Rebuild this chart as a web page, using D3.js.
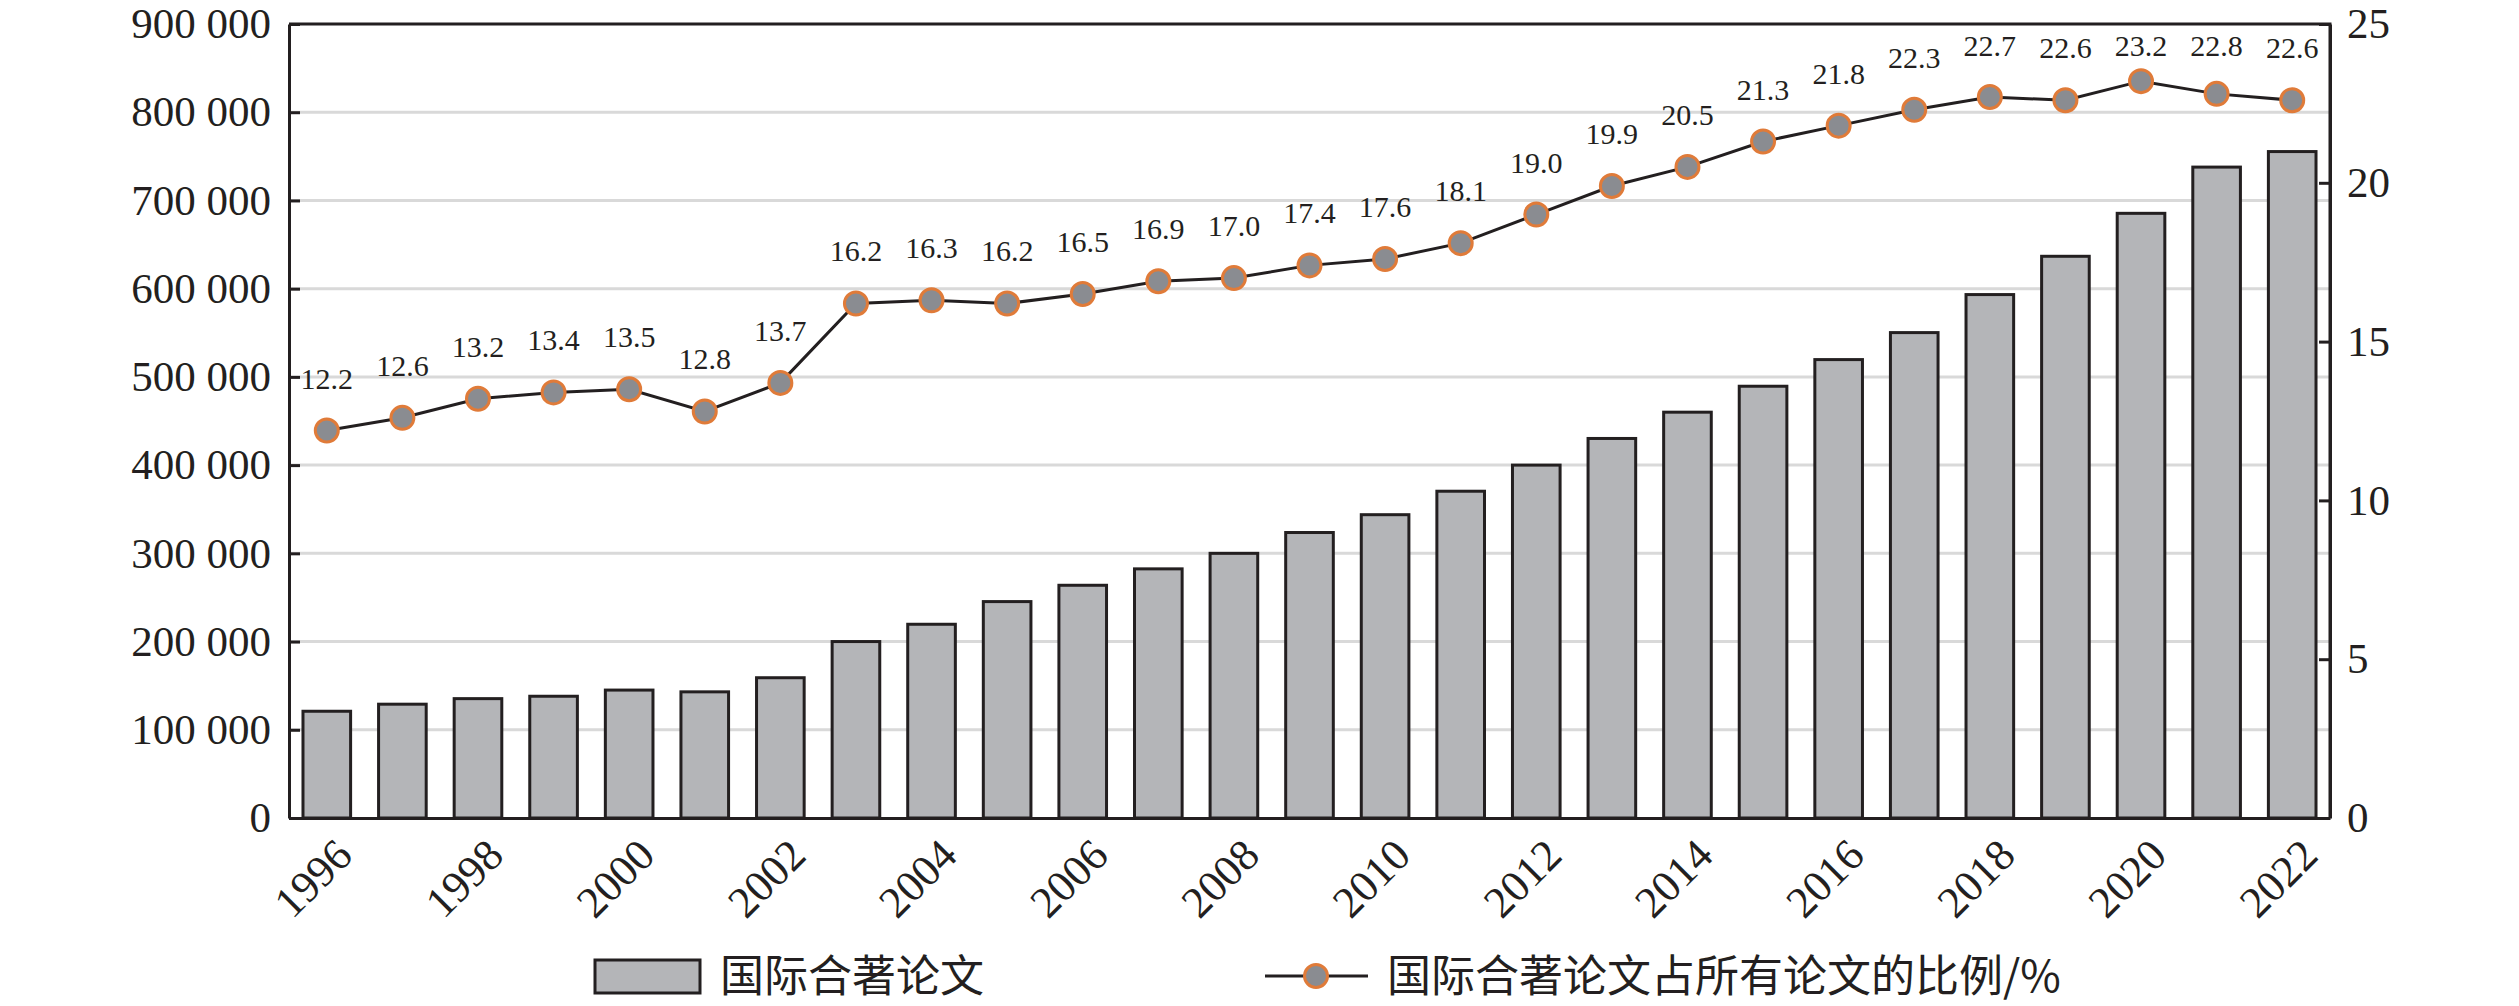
<!DOCTYPE html>
<html lang="zh">
<head>
<meta charset="UTF-8">
<title>国际合著论文</title>
<script src="https://cdnjs.cloudflare.com/ajax/libs/d3/7.8.5/d3.min.js"></script>
<style>
  body { margin: 0; background: #fff; }
  svg text { fill: #231f20; }
</style>
</head>
<body>
<div id="chart"></div>
<script>
// data
const years = d3.range(1996, 2023).map(String);
const papers = [121000, 129000, 135300, 138000, 145000, 143000, 159000, 200000, 219600, 245300,
                263800, 282400, 300000, 323600, 343800, 370400, 400000, 430200, 460000, 489400,
                519600, 550200, 593300, 636700, 685400, 737800, 755400];
const share = [12.2, 12.6, 13.2, 13.4, 13.5, 12.8, 13.7, 16.2, 16.3, 16.2, 16.5, 16.9, 17.0, 17.4,
               17.6, 18.1, 19.0, 19.9, 20.5, 21.3, 21.8, 22.3, 22.7, 22.6, 23.2, 22.8, 22.6];
const leftTicks = d3.range(0, 900001, 100000);
const rightTicks = [0, 5, 10, 15, 20, 25];
const yearTicks = years.filter((d, i) => i % 2 === 0);
const legendNames = ["国际合著论文", "国际合著论文占所有论文的比例/%"];

const W = 2519, H = 1006;
const margin = {top: 24, right: 189, bottom: 188, left: 289};
const x0 = margin.left, x1 = W - margin.right, yTop = margin.top, yBot = H - margin.bottom;

const serif = "'Liberation Serif', 'Times New Roman', serif";
const ink = "#231f20";
const barFill = "#b4b5b8";
const dotFill = "#8a8c91";
const dotStroke = "#e07b39";

const svg = d3.select("#chart").append("svg")
    .attr("width", W).attr("height", H);

const x = d3.scaleBand().domain(years).range([x0, x1])
    .paddingInner(0.37).paddingOuter(0.185);
const yL = d3.scaleLinear().domain([0, 900000]).range([yBot, yTop]);
const yR = d3.scaleLinear().domain([0, 25]).range([yBot, yTop]);

const fmt = d3.formatLocale({decimal: ".", thousands: " ", grouping: [3], currency: ["", ""]}).format(",");

// gridlines
svg.append("g").selectAll("line")
    .data(leftTicks.filter(d => d > 0 && d < 900000))
    .join("line")
    .attr("x1", x0).attr("x2", x1)
    .attr("y1", d => yL(d)).attr("y2", d => yL(d))
    .attr("stroke", "#d9d9d9").attr("stroke-width", 3);

// bars
svg.append("g").selectAll("rect")
    .data(papers)
    .join("rect")
    .attr("x", (d, i) => x(years[i]))
    .attr("y", d => yL(d))
    .attr("width", x.bandwidth())
    .attr("height", d => yBot - yL(d))
    .attr("fill", barFill)
    .attr("stroke", ink)
    .attr("stroke-width", 3);

// frame (top and right)
svg.append("path")
    .attr("d", `M${x0},${yTop}H${x1}V${yBot}`)
    .attr("fill", "none").attr("stroke", ink).attr("stroke-width", 3);

// left axis
const axL = svg.append("g").attr("transform", `translate(${x0},0)`)
    .call(d3.axisLeft(yL).tickValues(leftTicks).tickFormat(fmt)
        .tickSizeInner(-11).tickSizeOuter(0).tickPadding(18));
// right axis
const axR = svg.append("g").attr("transform", `translate(${x1},0)`)
    .call(d3.axisRight(yR).tickValues(rightTicks)
        .tickSizeInner(-11).tickSizeOuter(0).tickPadding(17));
[axL, axR].forEach(g => {
    g.select(".domain").attr("stroke", ink).attr("stroke-width", 3);
    g.selectAll(".tick line").attr("stroke", ink).attr("stroke-width", 3);
    g.selectAll(".tick text").attr("font-family", serif).attr("font-size", 43).attr("fill", ink);
});

// bottom axis
const axB = svg.append("g").attr("transform", `translate(0,${yBot})`)
    .call(d3.axisBottom(x).tickValues(yearTicks).tickSize(0).tickSizeOuter(0));
axB.select(".domain").attr("stroke", ink).attr("stroke-width", 3);
axB.selectAll(".tick text")
    .attr("font-family", serif).attr("font-size", 44).attr("fill", ink)
    .attr("text-anchor", "end")
    .attr("transform", "translate(6,18) rotate(-45)")
    .attr("x", 0).attr("y", 0).attr("dy", "0.7em");

// line + markers
const cx = i => x(years[i]) + x.bandwidth() / 2;
const line = d3.line().x((d, i) => cx(i)).y(d => yR(d));
svg.append("path").datum(share)
    .attr("d", line).attr("fill", "none")
    .attr("stroke", ink).attr("stroke-width", 3);
svg.append("g").selectAll("circle")
    .data(share)
    .join("circle")
    .attr("cx", (d, i) => cx(i)).attr("cy", d => yR(d)).attr("r", 11.5)
    .attr("fill", dotFill).attr("stroke", dotStroke).attr("stroke-width", 3);

// value labels
svg.append("g").selectAll("text")
    .data(share)
    .join("text")
    .attr("x", (d, i) => cx(i))
    .attr("y", d => Math.max(yR(d) - 42, yTop + 32))
    .attr("text-anchor", "middle")
    .attr("font-family", serif).attr("font-size", 30)
    .text(d => d.toFixed(1));

// legend
const lg = svg.append("g").attr("transform", `translate(0,976)`);
lg.append("rect").attr("x", 595).attr("y", -16).attr("width", 105).attr("height", 33)
    .attr("fill", barFill).attr("stroke", ink).attr("stroke-width", 3);
lg.append("text").attr("x", 720).attr("y", 0).attr("dy", "0.36em")
    .attr("font-family", "'Noto Sans CJK SC', sans-serif").attr("font-size", 44)
    .text(legendNames[0]);
lg.append("line").attr("x1", 1265).attr("x2", 1368).attr("y1", 0).attr("y2", 0)
    .attr("stroke", ink).attr("stroke-width", 3);
lg.append("circle").attr("cx", 1316).attr("cy", 0).attr("r", 11.5)
    .attr("fill", dotFill).attr("stroke", dotStroke).attr("stroke-width", 3);
lg.append("text").attr("x", 1387).attr("y", 0).attr("dy", "0.36em")
    .attr("font-family", "'Noto Sans CJK SC', sans-serif").attr("font-size", 44)
    .text(legendNames[1]);
</script>
</body>
</html>
